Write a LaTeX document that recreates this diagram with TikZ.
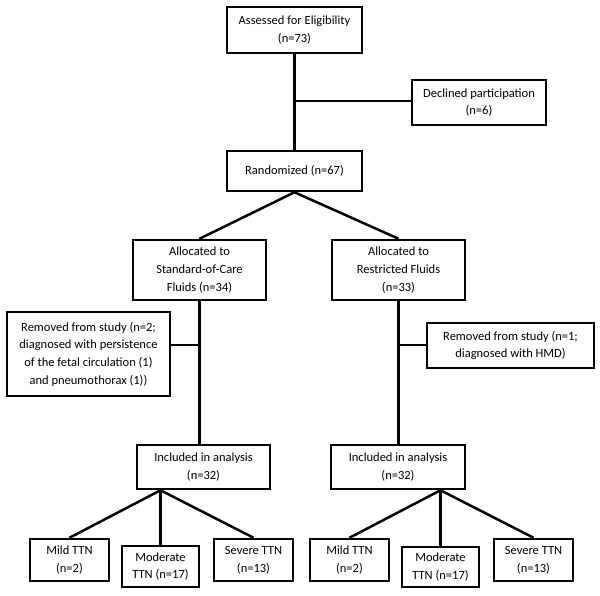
\documentclass[tikz,border=0pt]{standalone}
\usepackage{fontspec}
\setmainfont{Carlito}
\begin{document}
\begin{tikzpicture}[x=1pt,y=-1pt,
  box/.style={draw, line width=2.5pt, align=center, inner sep=0pt, font=\fontsize{12.5}{17.7}\selectfont},
  conn/.style={line width=2.5pt}]
\useasboundingbox[fill=white] (0,0) rectangle (600,595);
\node[box, minimum width=135pt, minimum height=46pt] (assess) at (294.5,30) {Assessed for Eligibility\\(n=73)};
\node[box, minimum width=134pt, minimum height=45pt] (decl) at (479,102.5) {Declined participation\\(n=6)};
\node[box, minimum width=135pt, minimum height=40pt] (rand) at (294.5,171) {Randomized (n=67)};
\node[box, minimum width=133pt, minimum height=60pt] (alloc1) at (199.5,270) {Allocated to\\Standard-of-Care\\Fluids (n=34)};
\node[box, minimum width=133pt, minimum height=60pt] (alloc2) at (398.5,270) {Allocated to\\Restricted Fluids\\(n=33)};
\node[box, minimum width=163pt, minimum height=84pt] (rem1) at (88.5,354) {Removed from study (n=2;\\diagnosed with persistence\\of the fetal circulation (1)\\and pneumothorax (1))};
\node[box, minimum width=167pt, minimum height=45pt] (rem2) at (510.5,345.5) {Removed from study (n=1;\\diagnosed with HMD)};
\node[box, minimum width=133pt, minimum height=44pt] (incl1) at (203.5,467) {Included in analysis\\(n=32)};
\node[box, minimum width=134pt, minimum height=44pt] (incl2) at (398,467) {Included in analysis\\(n=32)};
\node[box, minimum width=79pt, minimum height=42pt] (mild1) at (69.5,560) {Mild TTN\\(n=2)};
\node[box, minimum width=77pt, minimum height=41pt] (mod1) at (160.5,566.5) {Moderate\\TTN (n=17)};
\node[box, minimum width=79pt, minimum height=42pt] (sev1) at (253.5,560) {Severe TTN\\(n=13)};
\node[box, minimum width=79pt, minimum height=42pt] (mild2) at (349.5,560) {Mild TTN\\(n=2)};
\node[box, minimum width=77pt, minimum height=40pt] (mod2) at (440.5,567) {Moderate\\TTN (n=17)};
\node[box, minimum width=79pt, minimum height=42pt] (sev2) at (533.5,560) {Severe TTN\\(n=13)};
\coordinate (j1) at (294.5,101);
\coordinate (j2) at (199.5,345);
\coordinate (j3) at (398.5,345);
\coordinate (a1) at (mod1.north |- incl1.south);
\coordinate (a2) at (mod2.north |- incl2.south);
\draw[conn] (assess.south) -- (rand.north);
\draw[conn] (j1) -- (j1 -| decl.west);
\draw[conn] (rand.south) -- (alloc1.north);
\draw[conn] (rand.south) -- (alloc2.north);
\draw[conn] (alloc1.south) -- (alloc1.south |- incl1.north);
\draw[conn] (alloc2.south) -- (alloc2.south |- incl2.north);
\draw[conn] (j2) -- (j2 -| rem1.east);
\draw[conn] (j3) -- (j3 -| rem2.west);
\draw[conn] (a1) -- (mild1.north);
\draw[conn] (a1) -- (mod1.north);
\draw[conn] (a1) -- (sev1.north);
\draw[conn] (a2) -- (mild2.north);
\draw[conn] (a2) -- (mod2.north);
\draw[conn] (a2) -- (sev2.north);
\end{tikzpicture}
\end{document}
